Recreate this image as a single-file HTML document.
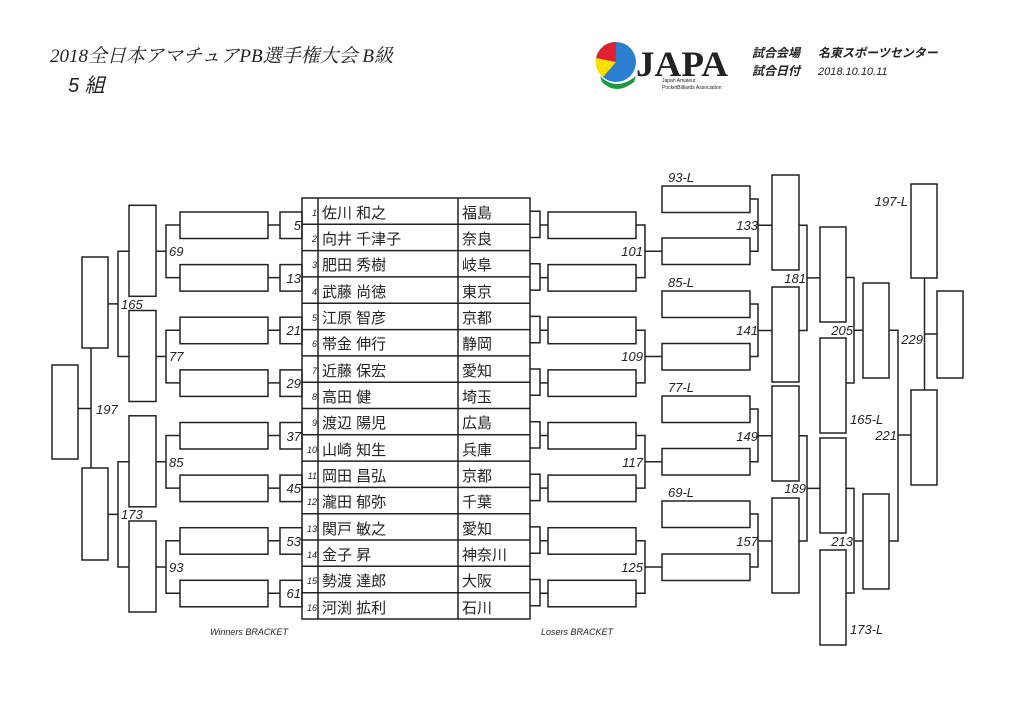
<!DOCTYPE html>
<html><head><meta charset="utf-8"><style>
html,body{margin:0;padding:0;background:#fff;width:1024px;height:724px;overflow:hidden}
svg{display:block}
text{font-family:"Liberation Sans","Noto Sans CJK JP",sans-serif;fill:#222}
.i{font-style:italic}
</style></head><body>
<svg width="1024" height="724" viewBox="0 0 1024 724" xmlns="http://www.w3.org/2000/svg">
<g>
<text x="50" y="62" font-size="19" class="i" style="font-family:'Liberation Serif','Noto Serif CJK SC',serif">2018全日本アマチュアPB選手権大会 B級</text>
<text x="68" y="92" font-size="20" class="i">5 組</text>
<!-- logo -->
<circle cx="616" cy="62" r="20" fill="#2a7fd0"/>
<path d="M616 62 L596 58 A20 20 0 0 1 616 42 Z" fill="#e02030"/>
<path d="M616 62 L596 58 A20 20 0 0 0 603 77 Z" fill="#f5e000"/>
<path d="M600 76 Q616 92 636 76 L634 82 Q616 96 602 82 Z" fill="#1a9a3a"/>
<text x="636" y="76" font-size="36" font-weight="bold" textLength="92" lengthAdjust="spacingAndGlyphs" style="font-family:'Liberation Serif',serif" fill="#222">JAPA</text>
<text x="662" y="82" font-size="5">Japan Amateur</text>
<text x="662" y="89" font-size="5">PocketBilliards Association</text>
<text x="752" y="57" font-size="12" font-weight="bold" class="i">試合会場</text>
<text x="752" y="75" font-size="12" font-weight="bold" class="i">試合日付</text>
<text x="818" y="57" font-size="12" font-weight="bold" class="i">名東スポーツセンター</text>
<text x="818" y="75" font-size="11" class="i">2018.10.10.11</text>
</g>
<g fill="none" stroke="#222" stroke-width="1.5">
<rect x="302" y="198" width="228" height="421"/>
<line x1="318" y1="198" x2="318" y2="619"/>
<line x1="458" y1="198" x2="458" y2="619"/>
<path d="M302 224.3H530M302 250.6H530M302 276.9H530M302 303.2H530M302 329.6H530M302 355.9H530M302 382.2H530M302 408.5H530M302 434.8H530M302 461.1H530M302 487.4H530M302 513.7H530M302 540H530M302 566.3H530M302 592.7H530"/>
<rect x="280" y="212" width="22" height="26.5"/><rect x="180" y="212" width="88" height="26.5"/>
<rect x="280" y="264.6" width="22" height="26.5"/><rect x="180" y="264.6" width="88" height="26.5"/>
<rect x="280" y="317.2" width="22" height="26.5"/><rect x="180" y="317.2" width="88" height="26.5"/>
<rect x="280" y="369.9" width="22" height="26.5"/><rect x="180" y="369.9" width="88" height="26.5"/>
<rect x="280" y="422.5" width="22" height="26.5"/><rect x="180" y="422.5" width="88" height="26.5"/>
<rect x="280" y="475.1" width="22" height="26.5"/><rect x="180" y="475.1" width="88" height="26.5"/>
<rect x="280" y="527.7" width="22" height="26.5"/><rect x="180" y="527.7" width="88" height="26.5"/>
<rect x="280" y="580.3" width="22" height="26.5"/><rect x="180" y="580.3" width="88" height="26.5"/>
<path d="M268 225H280M268 277.6H280M268 330.2H280M268 382.9H280M268 435.5H280M268 488.1H280M268 540.7H280M268 593.3H280"/>
<path d="M180 225H166V277.6H180M166 251.3H156"/>
<path d="M180 330.2H166V382.9H180M166 356.5H156"/>
<path d="M180 435.5H166V488.1H180M166 461.8H156"/>
<path d="M180 540.7H166V593.3H180M166 567H156"/>
<rect x="129" y="205.3" width="27" height="91"/>
<rect x="129" y="310.5" width="27" height="91"/>
<rect x="129" y="415.8" width="27" height="91"/>
<rect x="129" y="521" width="27" height="91"/>
<path d="M129 251.3H118V356.5H129M118 303.9H108"/>
<path d="M129 461.8H118V567H129M118 514.4H108"/>
<rect x="82" y="257" width="26" height="91"/>
<rect x="82" y="468" width="26" height="92"/>
<path d="M91 348V468M91 408.5H78"/>
<rect x="52" y="365" width="26" height="94"/>
<rect x="548" y="212" width="88" height="26.5"/><rect x="548" y="264.6" width="88" height="26.5"/>
<rect x="548" y="317.2" width="88" height="26.5"/><rect x="548" y="369.9" width="88" height="26.5"/>
<rect x="548" y="422.5" width="88" height="26.5"/><rect x="548" y="475.1" width="88" height="26.5"/>
<rect x="548" y="527.7" width="88" height="26.5"/><rect x="548" y="580.3" width="88" height="26.5"/>
<path d="M530 211.2H540V237.5H530M540 225H548"/>
<path d="M530 263.8H540V290.1H530M540 277.6H548"/>
<path d="M530 316.4H540V342.7H530M540 330.2H548"/>
<path d="M530 369H540V395.3H530M540 382.9H548"/>
<path d="M530 421.7H540V448H530M540 435.5H548"/>
<path d="M530 474.3H540V500.6H530M540 488.1H548"/>
<path d="M530 526.9H540V553.2H530M540 540.7H548"/>
<path d="M530 579.5H540V605.8H530M540 593.3H548"/>
<path d="M636 225H645V277.6H636M645 251.3H662"/>
<path d="M636 330.2H645V382.9H636M645 356.5H662"/>
<path d="M636 435.5H645V488.1H636M645 461.8H662"/>
<path d="M636 540.7H645V593.3H636M645 567H662"/>
<rect x="662" y="186" width="88" height="26.5"/><rect x="662" y="238" width="88" height="26.5"/>
<rect x="662" y="291" width="88" height="26.5"/><rect x="662" y="343.5" width="88" height="26.5"/>
<rect x="662" y="396" width="88" height="26.5"/><rect x="662" y="448.5" width="88" height="26.5"/>
<rect x="662" y="501" width="88" height="26.5"/><rect x="662" y="554" width="88" height="26.5"/>
<path d="M750 199H758V251.3H750M758 225.3H772"/>
<path d="M750 304H758V356.5H750M758 330.5H772"/>
<path d="M750 409H758V461.8H750M758 435.8H772"/>
<path d="M750 514H758V567H750M758 541H772"/>
<rect x="772" y="175" width="27" height="95"/>
<rect x="772" y="287" width="27" height="95"/>
<rect x="772" y="386" width="27" height="95"/>
<rect x="772" y="498" width="27" height="95"/>
<path d="M799 225.3H807V330.5H799M807 277.9H820"/>
<path d="M799 435.8H807V541H799M807 488.4H820"/>
<rect x="820" y="227" width="26" height="95"/>
<rect x="820" y="338" width="26" height="95"/>
<rect x="820" y="438" width="26" height="95"/>
<rect x="820" y="550" width="26" height="95"/>
<path d="M846 277.5H854V383H846M854 330.3H863"/>
<path d="M846 488.4H854V593H846M854 541H863"/>
<rect x="863" y="283" width="26" height="95"/>
<rect x="863" y="494" width="26" height="95"/>
<path d="M889 330.3H898V541H889M898 435H911"/>
<rect x="911" y="184" width="26" height="94"/>
<rect x="911" y="390" width="26" height="95"/>
<path d="M924.5 278V390M924.5 334H937"/>
<rect x="937" y="291" width="26" height="87"/>
</g>
<g font-size="15">
<text x="322" y="218">佐川 和之</text><text x="462" y="218">福島</text>
<text x="322" y="244">向井 千津子</text><text x="462" y="244">奈良</text>
<text x="322" y="270">肥田 秀樹</text><text x="462" y="270">岐阜</text>
<text x="322" y="297">武藤 尚徳</text><text x="462" y="297">東京</text>
<text x="322" y="323">江原 智彦</text><text x="462" y="323">京都</text>
<text x="322" y="349">帯金 伸行</text><text x="462" y="349">静岡</text>
<text x="322" y="376">近藤 保宏</text><text x="462" y="376">愛知</text>
<text x="322" y="402">高田 健</text><text x="462" y="402">埼玉</text>
<text x="322" y="428">渡辺 陽児</text><text x="462" y="428">広島</text>
<text x="322" y="455">山崎 知生</text><text x="462" y="455">兵庫</text>
<text x="322" y="481">岡田 昌弘</text><text x="462" y="481">京都</text>
<text x="322" y="507">瀧田 郁弥</text><text x="462" y="507">千葉</text>
<text x="322" y="534">関戸 敏之</text><text x="462" y="534">愛知</text>
<text x="322" y="560">金子 昇</text><text x="462" y="560">神奈川</text>
<text x="322" y="586">勢渡 達郎</text><text x="462" y="586">大阪</text>
<text x="322" y="613">河渕 拡利</text><text x="462" y="613">石川</text>
</g>
<g font-size="9" class="i" text-anchor="end">
<text x="317" y="216">1</text><text x="317" y="242">2</text><text x="317" y="268">3</text><text x="317" y="295">4</text>
<text x="317" y="321">5</text><text x="317" y="347">6</text><text x="317" y="374">7</text><text x="317" y="400">8</text>
<text x="317" y="426">9</text><text x="317" y="453">10</text><text x="317" y="479">11</text><text x="317" y="505">12</text>
<text x="317" y="532">13</text><text x="317" y="558">14</text><text x="317" y="584">15</text><text x="317" y="611">16</text>
</g>
<g font-size="13" class="i">
<g text-anchor="end">
<text x="301" y="230">5</text><text x="301" y="283">13</text><text x="301" y="335">21</text><text x="301" y="388">29</text>
<text x="301" y="441">37</text><text x="301" y="493">45</text><text x="301" y="546">53</text><text x="301" y="598">61</text>
<text x="643" y="256">101</text><text x="643" y="361">109</text><text x="643" y="467">117</text><text x="643" y="572">125</text>
<text x="758" y="230">133</text><text x="758" y="335">141</text><text x="758" y="441">149</text><text x="758" y="546">157</text>
<text x="806" y="283">181</text><text x="806" y="493">189</text>
<text x="853" y="335">205</text><text x="853" y="546">213</text>
<text x="897" y="440">221</text><text x="923" y="344">229</text>
<text x="908" y="206">197-L</text>
</g>
<text x="169" y="256">69</text><text x="169" y="361">77</text><text x="169" y="467">85</text><text x="169" y="572">93</text>
<text x="121" y="309">165</text><text x="121" y="519">173</text>
<text x="96" y="414">197</text>
<text x="668" y="182">93-L</text><text x="668" y="287">85-L</text><text x="668" y="392">77-L</text><text x="668" y="497">69-L</text>
<text x="850" y="424">165-L</text><text x="850" y="634">173-L</text>
</g>
<g font-size="9" class="i">
<text x="210" y="635">Winners BRACKET</text>
<text x="541" y="635">Losers BRACKET</text>
</g>
</svg>
</body></html>
